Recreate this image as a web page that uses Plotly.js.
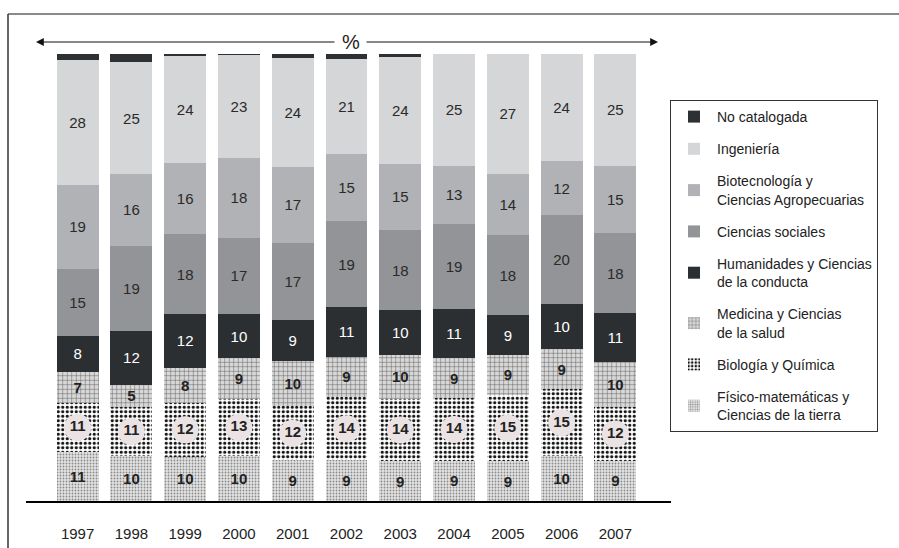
<!DOCTYPE html>
<html>
<head>
<meta charset="utf-8">
<script src="https://cdn.plot.ly/plotly-3.0.1.min.js"></script>
<style>html,body{margin:0;padding:0;background:#fff;}#chart{width:899px;height:548px;}</style>
</head>
<body>
<div id="chart"></div>
<script>
// ---- Data (percent by year) ----
var years = ['1997','1998','1999','2000','2001','2002','2003','2004','2005','2006','2007'];
var fisico      = [11,10,10,10, 9, 9, 9, 9, 9,10, 9];
var bioquim     = [11,11,12,13,12,14,14,14,15,15,12];
var medicina    = [ 7, 5, 8, 9,10, 9,10, 9, 9, 9,10];
var humanidades = [ 8,12,12,10, 9,11,10,11, 9,10,11];
var sociales    = [15,19,18,17,17,19,18,19,18,20,18];
var biotec      = [19,16,16,18,17,15,15,13,14,12,15];
var ingenieria  = [28,25,24,23,24,21,24,25,27,24,25];
var nocat       = [1.3,1.8,0.5,0.3,0.9,1.1,0.7,0,0,0,0];

var names = {
  fisico: 'Físico-matemáticas y<br>Ciencias de la tierra',
  bioquim: 'Biología y Química',
  medicina: 'Medicina y Ciencias<br>de la salud',
  humanidades: 'Humanidades y Ciencias<br>de la conducta',
  sociales: 'Ciencias sociales',
  biotec: 'Biotecnología y<br>Ciencias Agropecuarias',
  ingenieria: 'Ingeniería',
  nocat: 'No catalogada'
};

// ---- Layout geometry (pixels) ----
var WIDTH = 899, HEIGHT = 548;
var ML = 29, MR = 235, MT = 54, MB = 47;
var PW = WIDTH - ML - MR, PH = HEIGHT - MT - MB;
function px(x){ return (x - ML) / PW; }
function py(y){ return (HEIGHT - MB - y) / PH; }

var FONT = 'Liberation Sans, Arial, Helvetica, sans-serif';
function strs(a){ return a.map(function(v){ return String(v); }); }

function barTrace(key, vals, color, rank, opts){
  var t = {
    type: 'bar', x: years, y: vals, name: names[key],
    legendgroup: key, legendrank: rank,
    marker: { color: color, line: { width: 0 } },
    textposition: 'inside', insidetextanchor: 'middle', textangle: 0,
    constraintext: 'none',
    hoverinfo: 'x+y+name'
  };
  for (var k in opts) t[k] = opts[k];
  return t;
}

var traces = [
  barTrace('fisico', fisico, '#e0e0e0', 8, {
    marker: { color: '#e0e0e0', line: { width: 0 },
      pattern: { shape: '.', fgcolor: '#8a8a8a', bgcolor: '#e4e4e4', size: 3, solidity: 0.3 } },
    text: strs(fisico), textfont: { family: FONT, size: 15, color: '#222', weight: 'bold' }
  }),
  barTrace('bioquim', bioquim, '#ffffff', 7, {
    marker: { color: '#ffffff', line: { width: 0 },
      pattern: { shape: '.', fgcolor: '#111111', bgcolor: '#ffffff', size: 4.5, solidity: 0.4 } }
  }),
  barTrace('medicina', medicina, '#d0d0d0', 6, {
    marker: { color: '#d0d0d0', line: { width: 0 },
      pattern: { shape: '+', fgcolor: '#5a5a5a', bgcolor: '#d8d8d8', size: 4.5, solidity: 0.2 } },
    text: strs(medicina), textfont: { family: FONT, size: 15, color: '#222', weight: 'bold' }
  }),
  barTrace('humanidades', humanidades, '#2c2f31', 5, {
    text: strs(humanidades), textfont: { family: FONT, size: 15, color: '#ffffff' }
  }),
  barTrace('sociales', sociales, '#939497', 4, {
    text: strs(sociales), textfont: { family: FONT, size: 15, color: '#2a2a2a' }
  }),
  barTrace('biotec', biotec, '#b1b2b5', 3, {
    text: strs(biotec), textfont: { family: FONT, size: 15, color: '#2a2a2a' }
  }),
  barTrace('ingenieria', ingenieria, '#d5d6d8', 2, {
    text: strs(ingenieria), textfont: { family: FONT, size: 15, color: '#2a2a2a' }
  }),
  barTrace('nocat', nocat, '#2e3133', 1, {})
];

// circles with labels for Biología y Química (positions derived from data)
var circY = years.map(function(_, i){
  var tot = fisico[i]+bioquim[i]+medicina[i]+humanidades[i]+sociales[i]+biotec[i]+ingenieria[i]+nocat[i];
  return (fisico[i] + bioquim[i]/2) / tot * 100;
});
traces.push({
  type: 'scatter', mode: 'markers+text', x: years, y: circY,
  text: strs(bioquim), textposition: 'middle center',
  textfont: { family: FONT, size: 15, color: '#222', weight: 'bold' },
  marker: { size: 27, color: '#ebe3e3', line: { width: 0 } },
  showlegend: false, hoverinfo: 'skip', cliponaxis: false
});

var layout = {
  width: WIDTH, height: HEIGHT,
  margin: { l: ML, r: MR, t: MT, b: MB, autoexpand: false },
  paper_bgcolor: '#ffffff', plot_bgcolor: '#ffffff',
  barmode: 'stack', barnorm: 'percent', bargap: 0.22,
  font: { family: FONT, color: '#222' },
  showlegend: true,
  legend: {
    x: px(670), y: py(100), xanchor: 'left', yanchor: 'top',
    bordercolor: '#333', borderwidth: 1, bgcolor: '#ffffff',
    traceorder: 'grouped', tracegroupgap: 11, itemwidth: 36,
    font: { family: FONT, size: 14, color: '#222' },
    valign: 'middle'
  },
  xaxis: {
    type: 'category', showgrid: false, zeroline: false, showline: false,
    ticks: '', tickfont: { family: FONT, size: 15, color: '#222' },
    ticklabelstandoff: 22, fixedrange: true
  },
  yaxis: { visible: false, range: [0, 100], fixedrange: true },
  shapes: [
    { type: 'line', xref: 'paper', yref: 'paper', x0: px(26), x1: px(671), y0: py(502), y1: py(502),
      line: { color: '#000', width: 2 } },
    { type: 'line', xref: 'paper', yref: 'paper', x0: px(8), x1: px(899), y0: py(14), y1: py(14),
      line: { color: '#8a8a8a', width: 2 } },
    { type: 'line', xref: 'paper', yref: 'paper', x0: px(8), x1: px(8), y0: py(14), y1: py(548),
      line: { color: '#333', width: 1.5 } }
  ],
  annotations: [
    { xref: 'paper', yref: 'paper', x: px(351), y: py(42), xanchor: 'center', yanchor: 'middle',
      text: '%', showarrow: false, font: { family: FONT, size: 20, color: '#222' } },
    { xref: 'paper', yref: 'paper', x: px(36), y: py(42), text: '', showarrow: true,
      ax: 300, ay: 0, arrowhead: 2, arrowsize: 1.3, arrowwidth: 1.2, arrowcolor: '#111' },
    { xref: 'paper', yref: 'paper', x: px(658), y: py(42), text: '', showarrow: true,
      ax: -293, ay: 0, arrowhead: 2, arrowsize: 1.3, arrowwidth: 1.2, arrowcolor: '#111' }
  ]
};

Plotly.newPlot('chart', traces, layout, { displayModeBar: false, staticPlot: true });
</script>
</body>
</html>
